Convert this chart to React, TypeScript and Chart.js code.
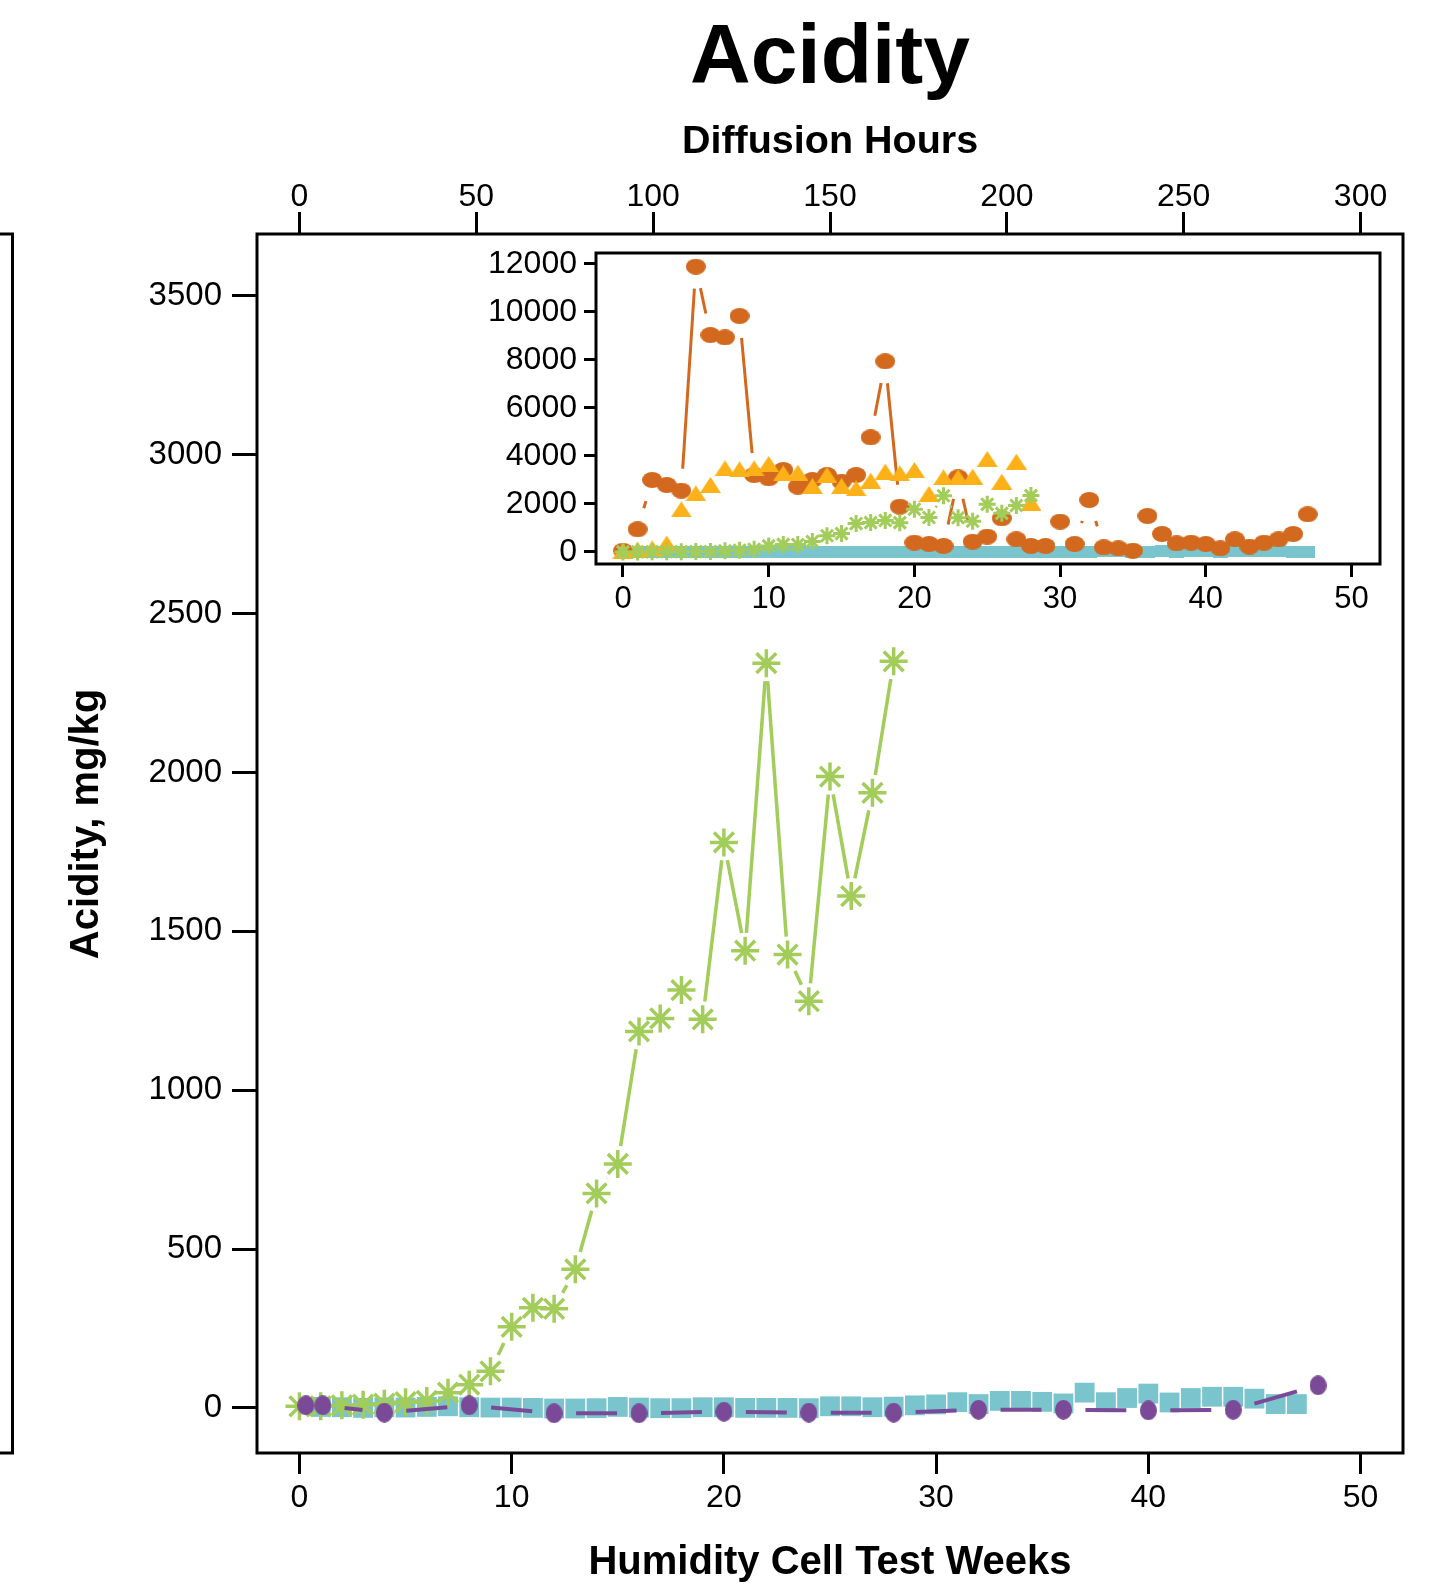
import React, { useEffect, useRef } from 'react';
import { Chart, registerables } from 'chart.js';

Chart.register(...registerables);

const FONT = "'Liberation Sans', Arial, Helvetica, sans-serif";

// ---------------- data ----------------
const greenWeeks = [0, 1, 2, 3, 4, 5, 6, 7, 8, 9, 10, 11, 12, 13, 14, 15, 16, 17, 18, 19, 20, 21, 22, 23, 24, 25, 26, 27, 28];
const greenValues = [5, 5, 8, 10, 13, 18, 22, 48, 73, 115, 255, 315, 312, 436, 675, 768, 1185, 1226, 1315, 1223, 1780, 1439, 2344, 1427, 1280, 1987, 1611, 1936, 2350];

const tealWeeks = [1, 2, 3, 4, 5, 6, 7, 8, 9, 10, 11, 12, 13, 14, 15, 16, 17, 18, 19, 20, 21, 22, 23, 24, 25, 26, 27, 28, 29, 30, 31, 32, 33, 34, 35, 36, 37, 38, 39, 40, 41, 42, 43, 44, 45, 46, 47];
const tealValues = [3, 2, 0, 2, 1, 3, 5, 2, 1, 1, 0, -2, -2, -1, 3, 1, -1, -1, 2, 2, 0, 0, 0, -1, 5, 5, 2, 4, 8, 11, 18, 12, 22, 22, 19, 14, 48, 18, 31, 45, 17, 31, 35, 35, 29, 12, 12];

const purpleWeeks = [0.3, 1.1, 4, 8, 12, 16, 20, 24, 28, 32, 36, 40, 44, 48];
const purpleValues = [8, 8, -15, 8, -17, -17, -12, -15, -15, -6, -6, -8, -6, 71];

const orangeWeeks = [0, 1, 2, 3, 4, 5, 6, 7, 8, 9, 10, 11, 12, 13, 14, 15, 16, 17, 18, 19, 20, 21, 22, 23, 24, 25, 26, 27, 28, 29, 30, 31, 32, 33, 34, 35, 36, 37, 38, 39, 40, 41, 42, 43, 44, 45, 46, 47];
const orangeValues = [50, 945, 3000, 2790, 2555, 11890, 9040, 8940, 9833, 3208, 3069, 3417, 2722, 3000, 3208, 2930, 3208, 4778, 7944, 1889, 389, 333, 250, 3111, 430, 639, 1403, 528, 250, 250, 1264, 333, 2167, 194, 153, 56, 1500, 750, 361, 389, 333, 153, 528, 222, 389, 528, 750, 1569];

const yellowWeeks = [0, 1, 2, 3, 4, 5, 6, 7, 8, 9, 10, 11, 12, 13, 14, 15, 16, 17, 18, 19, 20, 21, 22, 23, 24, 25, 26, 27, 28];
const yellowValues = [50, 100, 150, 350, 1778, 2444, 2792, 3486, 3444, 3486, 3667, 3278, 3306, 2750, 3208, 2750, 2653, 2972, 3347, 3278, 3417, 2417, 3111, 3111, 3139, 3875, 2930, 3764, 2056];

const mainYTicks = [0, 500, 1000, 1500, 2000, 2500, 3000, 3500];
const mainXTicks = [0, 10, 20, 30, 40, 50];
const hourTicks = [0, 50, 100, 150, 200, 250, 300];
const insetYTicks = [0, 2000, 4000, 6000, 8000, 10000, 12000];
const insetXTicks = [0, 10, 20, 30, 40, 50];

const GREEN = '#A2CD5A';
const TEAL = '#7AC5CD';
const PURPLE = '#7A4A98';
const ORANGE = '#D2691E';
const YELLOW = '#FBB117';

const toPoints = (xs: number[], ys: number[]) => xs.map((x, i) => ({ x, y: ys[i] }));

const tickGrid = (len: number) => ({
  display: true,
  drawOnChartArea: false,
  drawTicks: true,
  tickLength: len,
  tickWidth: 3,
  tickColor: '#000',
});

const fixedTicks = (vals: number[]) => (s: any) => {
  s.ticks = vals.map((v) => ({ value: v }));
};

const plainLabel = (v: any) => String(v);

const fitTo = (dim: 'width' | 'height', size: number) => (s: any) => {
  s[dim] = size;
  s.paddingTop = 0;
  s.paddingBottom = 0;
  s.paddingLeft = 0;
  s.paddingRight = 0;
};

// line segments leave a gap around each marker (like a "both" plot type)
const gapDash = (gap: number) => (ctx: any) => {
  const p0 = ctx.p0;
  const p1 = ctx.p1;
  const len = Math.hypot(p1.x - p0.x, p1.y - p0.y);
  const tail = len + 100 + (ctx.p0DataIndex || 0) * 0.001;
  if (len <= 2 * gap) return [0, tail];
  return [0, gap, len - 2 * gap, tail];
};

// sprite marker makers (drawn by Chart.js as image point styles)
const makeSprite = (w: number, h: number, draw: (ctx: CanvasRenderingContext2D) => void) => {
  const c = document.createElement('canvas');
  c.width = w;
  c.height = h;
  const ctx = c.getContext('2d') as CanvasRenderingContext2D;
  draw(ctx);
  return c;
};
const ellipseSprite = (w: number, h: number, color: string) =>
  makeSprite(w, h, (ctx) => {
    ctx.fillStyle = color;
    ctx.beginPath();
    ctx.ellipse(w / 2, h / 2, w / 2, h / 2, 0, 0, Math.PI * 2);
    ctx.fill();
  });
const rectSprite = (w: number, h: number, color: string) =>
  makeSprite(w, h, (ctx) => {
    ctx.fillStyle = color;
    ctx.fillRect(0, 0, w, h);
  });
const triangleSprite = (w: number, h: number, color: string) =>
  makeSprite(w, h, (ctx) => {
    ctx.fillStyle = color;
    ctx.beginPath();
    ctx.moveTo(w / 2, 0);
    ctx.lineTo(w, h);
    ctx.lineTo(0, h);
    ctx.closePath();
    ctx.fill();
  });

const frameStroke = (chart: any) => {
  const { ctx, chartArea: a } = chart;
  ctx.save();
  ctx.strokeStyle = '#000';
  ctx.lineWidth = 3;
  ctx.lineJoin = 'miter';
  ctx.strokeRect(a.left, a.top, a.right - a.left, a.bottom - a.top);
  ctx.restore();
};

const mainDecor = {
  id: 'mainDecor',
  afterDraw(chart: any) {
    frameStroke(chart);
    const { ctx, chartArea: a } = chart;
    ctx.save();
    ctx.strokeStyle = '#000';
    ctx.lineWidth = 3;
    ctx.lineJoin = 'miter';
    ctx.beginPath();
    ctx.moveTo(-3, a.top);
    ctx.lineTo(12.5, a.top);
    ctx.lineTo(12.5, a.bottom);
    ctx.lineTo(-3, a.bottom);
    ctx.stroke();
    ctx.fillStyle = '#000';
    ctx.textAlign = 'center';
    ctx.textBaseline = 'alphabetic';
    ctx.font = `bold 84px ${FONT}`;
    ctx.fillText('Acidity', (a.left + a.right) / 2, 83);
    ctx.translate(98, 824);
    ctx.rotate(-Math.PI / 2);
    ctx.font = `bold 40px ${FONT}`;
    ctx.fillText('Acidity, mg/kg', 0, 0);
    ctx.restore();
  },
};

const insetDecor = {
  id: 'insetDecor',
  afterDraw(chart: any) {
    frameStroke(chart);
  },
};

export default function App() {
  const mainRef = useRef<HTMLCanvasElement>(null);
  const insetRef = useRef<HTMLCanvasElement>(null);

  useEffect(() => {
    const tickFont = (size: number) => ({ family: FONT, size, lineHeight: 1 });

    const purpleDot = ellipseSprite(17, 20, PURPLE);
    const orangeDot = ellipseSprite(20, 16, ORANGE);
    const tealBox = rectSprite(15, 12, TEAL);
    const yellowTri = triangleSprite(21, 16, YELLOW);

    const main = new Chart(mainRef.current as HTMLCanvasElement, {
      type: 'scatter',
      data: {
        datasets: [
          {
            label: 'purple',
            data: toPoints(purpleWeeks, purpleValues),
            showLine: true,
            borderColor: PURPLE,
            borderWidth: 4,
            segment: { borderDash: gapDash(22) },
            pointStyle: purpleDot,
            pointRadius: 10,
            pointBackgroundColor: PURPLE,
            pointBorderColor: PURPLE,
            pointBorderWidth: 0,
            order: 1,
          },
          {
            label: 'green',
            data: toPoints(greenWeeks, greenValues),
            showLine: true,
            borderColor: GREEN,
            borderWidth: 3.5,
            segment: { borderDash: gapDash(18) },
            pointStyle: 'star',
            pointRadius: 14,
            pointBorderColor: GREEN,
            pointBackgroundColor: GREEN,
            pointBorderWidth: 3.5,
            order: 2,
          },
          {
            label: 'teal',
            data: toPoints(tealWeeks, tealValues),
            showLine: false,
            pointStyle: 'rect',
            pointRadius: 14,
            pointBackgroundColor: TEAL,
            pointBorderColor: TEAL,
            pointBorderWidth: 0,
            order: 3,
          },
        ],
      },
      options: {
        responsive: false,
        animation: false,
        devicePixelRatio: 1,
        layout: { padding: { left: 0, right: 46, top: 0, bottom: 0 }, autoPadding: false },
        plugins: { legend: { display: false }, tooltip: { enabled: false }, title: { display: false } },
        scales: {
          x: {
            type: 'linear',
            position: 'bottom',
            min: -2,
            max: 52,
            afterBuildTicks: fixedTicks(mainXTicks),
            afterFit: fitTo('height', 133),
            grid: tickGrid(21),
            border: { display: false },
            ticks: { font: tickFont(32), color: '#000', padding: 8.5, maxRotation: 0, autoSkip: false, callback: plainLabel },
            title: {
              display: true,
              text: 'Humidity Cell Test Weeks',
              color: '#000',
              font: { family: FONT, size: 40, weight: 'bold', lineHeight: 1 },
              padding: { top: 0, bottom: 3 },
            },
          },
          x2: {
            type: 'linear',
            position: 'top',
            min: -12,
            max: 312,
            afterBuildTicks: fixedTicks(hourTicks),
            afterFit: fitTo('height', 234),
            grid: tickGrid(22),
            border: { display: false },
            ticks: { font: tickFont(32), color: '#000', padding: -1, maxRotation: 0, autoSkip: false, callback: plainLabel },
            title: {
              display: true,
              text: 'Diffusion Hours',
              color: '#000',
              font: { family: FONT, size: 39.5, weight: 'bold', lineHeight: 1 },
              padding: { top: 122, bottom: 0 },
            },
          },
          y: {
            type: 'linear',
            position: 'left',
            min: -142,
            max: 3695,
            afterBuildTicks: fixedTicks(mainYTicks),
            afterFit: fitTo('width', 257),
            grid: tickGrid(25),
            border: { display: false },
            ticks: { font: tickFont(33), color: '#000', padding: 10, autoSkip: false, callback: plainLabel },
          },
        },
      } as any,
      plugins: [mainDecor],
    });

    const inset = new Chart(insetRef.current as HTMLCanvasElement, {
      type: 'scatter',
      data: {
        datasets: [
          {
            label: 'green',
            data: toPoints(greenWeeks, greenValues),
            showLine: true,
            borderColor: GREEN,
            borderWidth: 2.5,
            segment: { borderDash: gapDash(12) },
            pointStyle: 'star',
            pointRadius: 8.5,
            pointBorderColor: GREEN,
            pointBackgroundColor: GREEN,
            pointBorderWidth: 3,
            order: 1,
          },
          {
            label: 'yellow',
            data: toPoints(yellowWeeks, yellowValues),
            showLine: false,
            pointStyle: yellowTri,
            pointRadius: 11,
            pointBackgroundColor: YELLOW,
            pointBorderColor: YELLOW,
            pointBorderWidth: 0,
            order: 2,
          },
          {
            label: 'orange',
            data: toPoints(orangeWeeks, orangeValues),
            showLine: true,
            borderColor: ORANGE,
            borderWidth: 3,
            segment: { borderDash: gapDash(22) },
            pointStyle: orangeDot,
            pointRadius: 10,
            pointBackgroundColor: ORANGE,
            pointBorderColor: ORANGE,
            pointBorderWidth: 0,
            order: 3,
          },
          {
            label: 'teal',
            data: toPoints(tealWeeks, tealValues),
            showLine: false,
            pointStyle: tealBox,
            pointRadius: 8,
            pointBackgroundColor: TEAL,
            pointBorderColor: TEAL,
            pointBorderWidth: 0,
            order: 4,
          },
        ],
      },
      options: {
        responsive: false,
        animation: false,
        devicePixelRatio: 1,
        layout: { padding: { left: 0, right: 20, top: 13, bottom: 0 }, autoPadding: false },
        plugins: { legend: { display: false }, tooltip: { enabled: false }, title: { display: false } },
        scales: {
          x: {
            type: 'linear',
            position: 'bottom',
            min: -1.853,
            max: 51.96,
            afterBuildTicks: fixedTicks(insetXTicks),
            afterFit: fitTo('height', 56),
            grid: tickGrid(13),
            border: { display: false },
            ticks: { font: tickFont(31), color: '#000', padding: 6.5, maxRotation: 0, autoSkip: false, callback: plainLabel },
          },
          y: {
            type: 'linear',
            position: 'left',
            min: -500,
            max: 12458,
            afterBuildTicks: fixedTicks(insetYTicks),
            afterFit: fitTo('width', 136),
            grid: tickGrid(12),
            border: { display: false },
            ticks: { font: tickFont(32), color: '#000', padding: 7, autoSkip: false, callback: plainLabel },
          },
        },
      } as any,
      plugins: [insetDecor],
    });

    return () => {
      main.destroy();
      inset.destroy();
    };
  }, []);

  return (
    <div style={{ position: 'absolute', left: 0, top: 0, width: 1449, height: 1586, background: '#fff' }}>
      <canvas
        ref={mainRef}
        width={1449}
        height={1586}
        style={{ position: 'absolute', left: 0, top: 0, width: 1449, height: 1586, display: 'block' }}
      />
      <canvas
        ref={insetRef}
        width={940}
        height={380}
        style={{ position: 'absolute', left: 460, top: 240, width: 940, height: 380, display: 'block' }}
      />
    </div>
  );
}
